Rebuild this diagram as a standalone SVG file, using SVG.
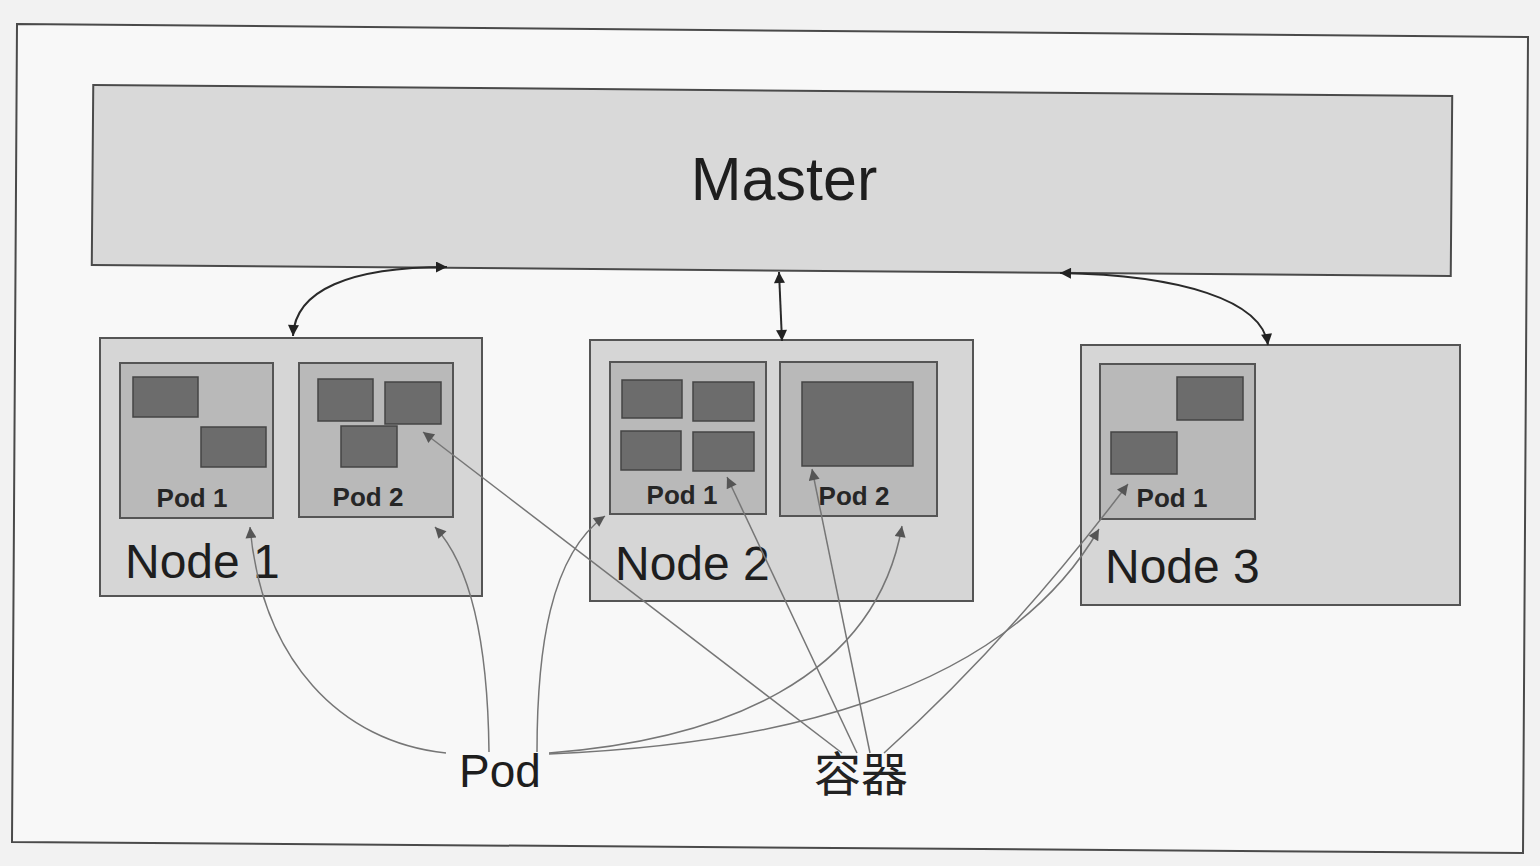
<svg xmlns="http://www.w3.org/2000/svg" width="1540" height="866" viewBox="0 0 1540 866">
  <defs>
    <style>
      .frame { fill: #f8f8f8; stroke: #4a4a4a; stroke-width: 2; }
      .master { fill: #d9d9d9; stroke: #4a4a4a; stroke-width: 2; }
      .node { fill: #d6d6d6; stroke: #555; stroke-width: 2; }
      .pod { fill: #b9b9b9; stroke: #555; stroke-width: 2; }
      .ctr { fill: #6c6c6c; stroke: #444; stroke-width: 1.5; }
      .big { font-family: "Liberation Sans", Arial, sans-serif; fill: #1e1e1e; }
      .podlbl { font-family: "Liberation Sans", Arial, sans-serif; font-weight: bold; font-size: 26px; fill: #262626; text-anchor: middle; }
      .mlink { fill: none; stroke: #2a2a2a; stroke-width: 2; marker-start: url(#ah); marker-end: url(#ah); }
      .glink { fill: none; stroke: #767676; stroke-width: 1.5; marker-end: url(#gh); }
    </style>
    <marker id="ah" viewBox="0 0 10 10" refX="10" refY="5" markerWidth="17" markerHeight="11" markerUnits="userSpaceOnUse" orient="auto-start-reverse">
      <path d="M0,0 L10,5 L0,10 z" fill="#222"/>
    </marker>
    <marker id="gh" viewBox="0 0 10 10" refX="10" refY="5" markerWidth="15" markerHeight="11" markerUnits="userSpaceOnUse" orient="auto">
      <path d="M0,0 L10,5 L0,10 z" fill="#555"/>
    </marker>
  </defs>

  <rect x="0" y="0" width="1540" height="866" fill="#f2f2f2"/>
  <polygon class="frame" points="17,24 1528,37 1523,853 12,842"/>

  <g id="master">
    <rect class="master" x="92.5" y="90.5" width="1359" height="180" transform="rotate(0.47 772 180.5)"/>
    <text class="big" x="784" y="200" font-size="61" text-anchor="middle">Master</text>
  </g>

  <g id="node1">
    <rect class="node" x="100" y="338" width="382" height="258"/>
    <g id="node1-pod1">
      <rect class="pod" x="120" y="363" width="153" height="155"/>
      <rect class="ctr" x="133" y="377" width="65" height="40"/>
      <rect class="ctr" x="201" y="427" width="65" height="40"/>
      <text class="podlbl" x="192" y="507">Pod 1</text>
    </g>
    <g id="node1-pod2">
      <rect class="pod" x="299" y="363" width="154" height="154"/>
      <rect class="ctr" x="318" y="379" width="55" height="42"/>
      <rect class="ctr" x="385" y="382" width="56" height="42"/>
      <rect class="ctr" x="341" y="426" width="56" height="41"/>
      <text class="podlbl" x="368" y="506">Pod 2</text>
    </g>
    <text class="big" x="125" y="578" font-size="48">Node 1</text>
  </g>

  <g id="node2">
    <rect class="node" x="590" y="340" width="383" height="261"/>
    <g id="node2-pod1">
      <rect class="pod" x="610" y="362" width="156" height="152"/>
      <rect class="ctr" x="622" y="380" width="60" height="38"/>
      <rect class="ctr" x="693" y="382" width="61" height="39"/>
      <rect class="ctr" x="621" y="431" width="60" height="39"/>
      <rect class="ctr" x="693" y="432" width="61" height="39"/>
      <text class="podlbl" x="682" y="504">Pod 1</text>
    </g>
    <g id="node2-pod2">
      <rect class="pod" x="780" y="362" width="157" height="154"/>
      <rect class="ctr" x="802" y="382" width="111" height="84"/>
      <text class="podlbl" x="854" y="505">Pod 2</text>
    </g>
    <text class="big" x="615" y="580" font-size="48">Node 2</text>
  </g>

  <g id="node3">
    <rect class="node" x="1081" y="345" width="379" height="260"/>
    <g id="node3-pod1">
      <rect class="pod" x="1100" y="364" width="155" height="155"/>
      <rect class="ctr" x="1177" y="377" width="66" height="43"/>
      <rect class="ctr" x="1111" y="432" width="66" height="42"/>
      <text class="podlbl" x="1172" y="507">Pod 1</text>
    </g>
    <text class="big" x="1105" y="583" font-size="48">Node 3</text>
  </g>

  <g id="label-pod">
    <text class="big" x="500" y="787" font-size="46" text-anchor="middle">Pod</text>
  </g>
  <g id="label-container">
    <text x="861" y="791" font-size="47" text-anchor="middle" fill="#222" font-family="'Noto Sans CJK SC', 'Noto Sans CJK JP', sans-serif">容器</text>
  </g>

  <g id="connectors">
    <path class="mlink" d="M293 336 C295 290 350 267 447 267"/>
    <path class="mlink" d="M779 272 L782 341"/>
    <path class="mlink" d="M1060 273 C1180 275 1262 300 1268 345"/>

    <path class="glink" d="M446 753 C340 742 262 660 250 527"/>
    <path class="glink" d="M489 752 C488 660 475 570 435 527"/>
    <path class="glink" d="M537 752 C537 650 550 555 605 516"/>
    <path class="glink" d="M549 753 C720 740 875 680 902 526"/>
    <path class="glink" d="M549 754 C760 745 1000 700 1099 529"/>

    <path class="glink" d="M842 753 L423 432"/>
    <path class="glink" d="M857 753 L727 477"/>
    <path class="glink" d="M870 753 L812 469"/>
    <path class="glink" d="M884 753 Q1010 640 1128 484"/>
  </g>
</svg>
